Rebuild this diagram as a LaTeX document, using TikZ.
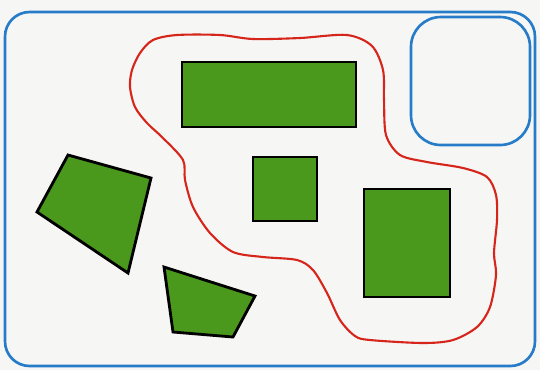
\documentclass[tikz,border=0pt]{standalone}
\usepackage{tikz}
\usetikzlibrary{positioning}

\definecolor{leafgreen}{RGB}{74,152,28}
\definecolor{frameblue}{RGB}{38,124,200}
\definecolor{loopred}{RGB}{214,38,28}
\definecolor{paper}{RGB}{246,246,244}

\begin{document}
\begin{tikzpicture}[x=0.02cm, y=-0.02cm,
    fig/.style={draw=black, fill=leafgreen, line width=1.6pt, line join=miter},
    frame/.style={draw=frameblue, line width=1.5pt},
    loop/.style={draw=loopred, line width=1.2pt}]

    \useasboundingbox[fill=paper] (0,0) rectangle (540,370);

    % ============ FRAMES ============
    \draw[frame, rounded corners=14pt] (5,12) rectangle (535,366);
    \draw[frame, rounded corners=17pt] (411,17) rectangle (530,145);

    % ============ RED LOOP ============
    \draw[loop] plot[smooth cycle, tension=0.5] coordinates {
      (177,35) (220,35) (253,39) (300,38) (347,35) (372,46) (383,70)
      (384,100) (386,135) (400,155) (427,162) (463,168) (487,177)
      (496,195) (497,220) (494,253) (496,275) (490,307) (477,327)
      (453,340) (423,343) (370,340) (355,336) (340,320) (327,293)
      (313,270) (297,260) (263,257) (233,252) (210,233) (193,207)
      (185,180) (183,160) (163,138) (147,123) (135,107) (130,87)
      (132,70) (140,53) (153,40)};

    % ============ FIGURES INSIDE ============
    \draw[fig] (182,62) rectangle (356,127);
    \draw[fig] (253,157) rectangle (317,221);
    \draw[fig] (364,189) rectangle (450,297);

    % ============ FIGURES OUTSIDE ============
    \draw[fig] (68,155) -- (151,178) -- (128,273) -- (37,212) -- cycle;
    \draw[fig] (164,267) -- (255,296) -- (233,337) -- (173,332) -- cycle;

\end{tikzpicture}
\end{document}
